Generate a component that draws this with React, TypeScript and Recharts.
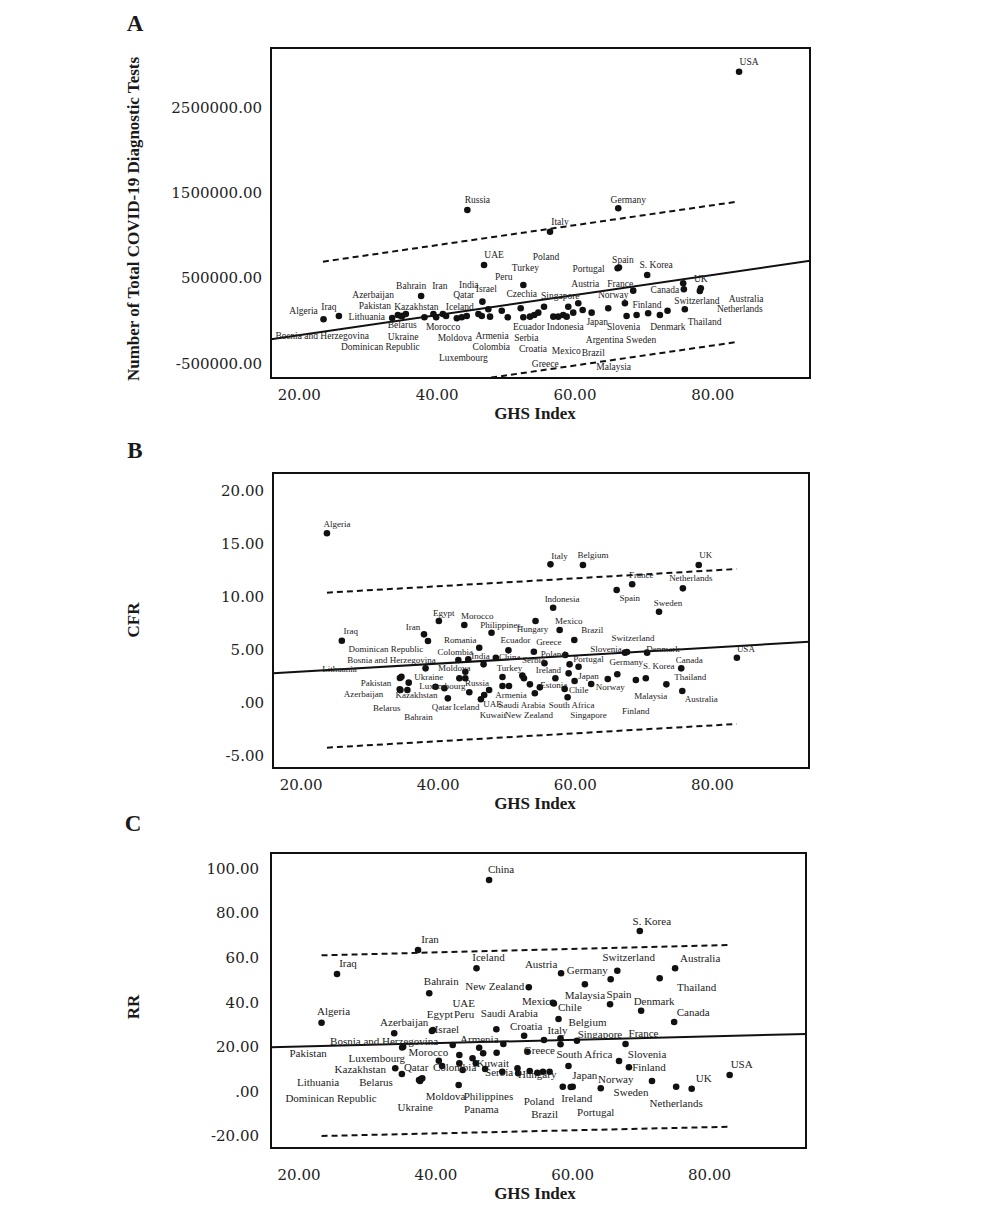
import React from 'react';
import { ScatterChart, Scatter, XAxis, YAxis, ReferenceLine, ReferenceArea } from 'recharts';

type Pt = { name: string; ghs: number; v: number };
type Seg = { x: number; y: number }[];

// ---------- shared x axis ----------
const ghsDomain: [number, number] = [15.9, 94.1];
const ghsTicks = [20, 40, 60, 80];

// ---------- Panel A: total COVID-19 diagnostic tests ----------
const testsA: Pt[] = [
  { name: 'Algeria', ghs: 23.52, v: 16000 },
  { name: 'Iraq', ghs: 25.75, v: 55000 },
  { name: 'Lithuania', ghs: 34.3, v: 67000 },
  { name: 'Pakistan', ghs: 35.46, v: 79000 },
  { name: 'Azerbaijan', ghs: 34.78, v: 55000 },
  { name: 'Bosnia and Herzegovina', ghs: 33.48, v: 32000 },
  { name: 'Belarus', ghs: 34.93, v: 55000 },
  { name: 'Bahrain', ghs: 37.68, v: 290000 },
  { name: 'Kazakhstan', ghs: 38.16, v: 40000 },
  { name: 'Dominican Republic', ghs: 39.46, v: 79000 },
  { name: 'Ukraine', ghs: 39.86, v: 40000 },
  { name: 'Iran', ghs: 40.83, v: 79000 },
  { name: 'Morocco', ghs: 41.3, v: 55000 },
  { name: 'Moldova', ghs: 42.86, v: 28000 },
  { name: 'Iceland', ghs: 43.58, v: 40000 },
  { name: 'Qatar', ghs: 44.3, v: 55000 },
  { name: 'Luxembourg', ghs: 45.99, v: 79000 },
  { name: 'Israel', ghs: 46.57, v: 223000 },
  { name: 'India', ghs: 46.48, v: 55000 },
  { name: 'Colombia', ghs: 47.43, v: 134000 },
  { name: 'Armenia', ghs: 47.68, v: 47000 },
  { name: 'UAE', ghs: 46.81, v: 653000 },
  { name: 'Russia', ghs: 44.39, v: 1298000 },
  { name: 'Peru', ghs: 49.38, v: 117000 },
  { name: 'Ecuador', ghs: 50.25, v: 40000 },
  { name: 'Czechia', ghs: 52.13, v: 145000 },
  { name: 'Turkey', ghs: 52.51, v: 419000 },
  { name: 'Serbia', ghs: 52.51, v: 40000 },
  { name: 'Croatia', ghs: 53.48, v: 47000 },
  { name: 'Estonia', ghs: 54.1, v: 67000 },
  { name: 'Greece', ghs: 54.68, v: 94000 },
  { name: 'Poland', ghs: 55.51, v: 164000 },
  { name: 'Italy', ghs: 56.38, v: 1043000 },
  { name: 'Singapore', ghs: 56.86, v: 47000 },
  { name: 'Indonesia', ghs: 57.58, v: 47000 },
  { name: 'Mexico', ghs: 58.3, v: 67000 },
  { name: 'Argentina', ghs: 58.8, v: 47000 },
  { name: 'Austria', ghs: 59.03, v: 164000 },
  { name: 'Japan', ghs: 59.75, v: 94000 },
  { name: 'Brazil', ghs: 60.48, v: 204000 },
  { name: 'Malaysia', ghs: 61.12, v: 125000 },
  { name: 'Chile', ghs: 62.42, v: 94000 },
  { name: 'France', ghs: 64.83, v: 145000 },
  { name: 'Portugal', ghs: 66.19, v: 614000 },
  { name: 'Spain', ghs: 66.38, v: 624000 },
  { name: 'Finland', ghs: 67.25, v: 204000 },
  { name: 'Latvia', ghs: 67.49, v: 55000 },
  { name: 'Norway', ghs: 68.45, v: 352000 },
  { name: 'Slovenia', ghs: 68.94, v: 67000 },
  { name: 'S. Korea', ghs: 70.48, v: 536000 },
  { name: 'Sweden', ghs: 70.62, v: 87000 },
  { name: 'Denmark', ghs: 72.32, v: 67000 },
  { name: 'Thailand', ghs: 73.43, v: 117000 },
  { name: 'Australia', ghs: 75.7, v: 438000 },
  { name: 'Canada', ghs: 75.8, v: 368000 },
  { name: 'Switzerland', ghs: 75.94, v: 134000 },
  { name: 'UK', ghs: 78.26, v: 380000 },
  { name: 'Netherlands', ghs: 78.12, v: 348000 },
  { name: 'Germany', ghs: 66.28, v: 1318000 },
  { name: 'USA', ghs: 83.81, v: 2919000 },
];
const yDomainA: [number, number] = [-672000, 3197000];
const yTicksA = [-500000, 500000, 1500000, 2500000];
const fitA: Seg = [{ x: 15.9, y: -218000 }, { x: 94.1, y: 703000 }];
const upperA: Seg = [{ x: 23.43, y: 692000 }, { x: 83.52, y: 1395000 }];
const lowerA: Seg = [{ x: 23.43, y: -953000 }, { x: 83.52, y: -250000 }];

// ---------- Panel B: CFR ----------
const cfrB: Pt[] = [
  { name: 'Algeria', ghs: 23.77, v: 16.01 },
  { name: 'Iraq', ghs: 25.94, v: 5.88 },
  { name: 'Dominican Republic', ghs: 38.51, v: 5.85 },
  { name: 'Iran', ghs: 37.93, v: 6.48 },
  { name: 'Bosnia and Herzegovina', ghs: 38.16, v: 3.27 },
  { name: 'Lithuania', ghs: 34.64, v: 2.48 },
  { name: 'Pakistan', ghs: 34.42, v: 2.36 },
  { name: 'Ukraine', ghs: 35.7, v: 1.92 },
  { name: 'Azerbaijan', ghs: 34.49, v: 1.23 },
  { name: 'Belarus', ghs: 34.39, v: 1.29 },
  { name: 'Bahrain', ghs: 35.51, v: 1.23 },
  { name: 'Kazakhstan', ghs: 39.61, v: 1.54 },
  { name: 'Moldova', ghs: 43.96, v: 2.95 },
  { name: 'Luxembourg', ghs: 40.91, v: 1.39 },
  { name: 'Qatar', ghs: 41.41, v: 0.44 },
  { name: 'Russia', ghs: 47.43, v: 1.23 },
  { name: 'Iceland', ghs: 44.54, v: 1.01 },
  { name: 'Kuwait', ghs: 46.23, v: 0.35 },
  { name: 'Costa Rica', ghs: 46.71, v: 0.75 },
  { name: 'Colombia', ghs: 42.94, v: 4.06 },
  { name: 'India', ghs: 46.62, v: 3.65 },
  { name: 'Panama', ghs: 44.39, v: 4.12 },
  { name: 'Peru', ghs: 43.09, v: 2.33 },
  { name: 'Bulgaria', ghs: 43.96, v: 2.33 },
  { name: 'Romania', ghs: 45.99, v: 5.22 },
  { name: 'Egypt', ghs: 40.1, v: 7.74 },
  { name: 'Morocco', ghs: 43.81, v: 7.36 },
  { name: 'Philippines', ghs: 47.78, v: 6.63 },
  { name: 'Hungary', ghs: 54.2, v: 7.74 },
  { name: 'Ecuador', ghs: 50.25, v: 4.97 },
  { name: 'Greece', ghs: 53.96, v: 4.84 },
  { name: 'China', ghs: 48.41, v: 4.27 },
  { name: 'Serbia', ghs: 55.51, v: 3.75 },
  { name: 'Poland', ghs: 58.55, v: 4.53 },
  { name: 'Turkey', ghs: 49.38, v: 2.45 },
  { name: 'Slovakia', ghs: 52.28, v: 2.58 },
  { name: 'Cuba', ghs: 52.51, v: 2.33 },
  { name: 'Armenia', ghs: 50.33, v: 1.6 },
  { name: 'UAE', ghs: 49.38, v: 1.6 },
  { name: 'Saudi Arabia', ghs: 53.38, v: 1.76 },
  { name: 'Estonia', ghs: 54.83, v: 1.48 },
  { name: 'New Zealand', ghs: 54.1, v: 0.92 },
  { name: 'Italy', ghs: 56.38, v: 13.08 },
  { name: 'Belgium', ghs: 61.12, v: 13.02 },
  { name: 'UK', ghs: 78.01, v: 13.02 },
  { name: 'France', ghs: 68.3, v: 11.2 },
  { name: 'Netherlands', ghs: 75.7, v: 10.82 },
  { name: 'Spain', ghs: 66.04, v: 10.66 },
  { name: 'Sweden', ghs: 72.22, v: 8.61 },
  { name: 'Indonesia', ghs: 56.77, v: 8.99 },
  { name: 'Mexico', ghs: 57.72, v: 6.89 },
  { name: 'Brazil', ghs: 59.86, v: 5.94 },
  { name: 'Slovenia', ghs: 67.25, v: 4.75 },
  { name: 'Switzerland', ghs: 67.54, v: 4.81 },
  { name: 'Denmark', ghs: 70.48, v: 4.75 },
  { name: 'USA', ghs: 83.58, v: 4.27 },
  { name: 'Canada', ghs: 75.46, v: 3.27 },
  { name: 'Portugal', ghs: 60.48, v: 3.42 },
  { name: 'Latvia', ghs: 59.17, v: 3.65 },
  { name: 'Germany', ghs: 66.13, v: 2.71 },
  { name: 'S. Korea', ghs: 70.29, v: 2.33 },
  { name: 'Malaysia', ghs: 68.84, v: 2.17 },
  { name: 'Thailand', ghs: 73.29, v: 1.76 },
  { name: 'Japan', ghs: 59.03, v: 2.8 },
  { name: 'Chile', ghs: 58.45, v: 1.32 },
  { name: 'Singapore', ghs: 59.9, v: 2.08 },
  { name: 'Ireland', ghs: 57.1, v: 2.33 },
  { name: 'Norway', ghs: 62.32, v: 1.79 },
  { name: 'Finland', ghs: 64.74, v: 2.26 },
  { name: 'Australia', ghs: 75.61, v: 1.13 },
  { name: 'South Africa', ghs: 58.88, v: 0.54 },
];
const yDomainB: [number, number] = [-6.13, 21.7];
const yTicksB = [-5, 0, 5, 10, 15, 20];
const fitB: Seg = [{ x: 15.9, y: 2.8 }, { x: 94.1, y: 5.78 }];
const upperB: Seg = [{ x: 23.77, y: 10.41 }, { x: 83.52, y: 12.64 }];
const lowerB: Seg = [{ x: 23.77, y: -4.21 }, { x: 83.52, y: -1.98 }];

// ---------- Panel C: RR ----------
const rrC: Pt[] = [
  { name: 'China', ghs: 47.78, v: 94.84 },
  { name: 'Iran', ghs: 37.39, v: 63.45 },
  { name: 'Iraq', ghs: 25.55, v: 52.69 },
  { name: 'Iceland', ghs: 45.94, v: 55.25 },
  { name: 'Austria', ghs: 58.3, v: 53.0 },
  { name: 'Bahrain', ghs: 39.03, v: 44.04 },
  { name: 'New Zealand', ghs: 53.58, v: 46.73 },
  { name: 'Algeria', ghs: 23.29, v: 30.85 },
  { name: 'Israel', ghs: 39.57, v: 27.58 },
  { name: 'Egypt', ghs: 39.42, v: 27.13 },
  { name: 'UAE', ghs: 42.46, v: 20.85 },
  { name: 'Peru', ghs: 46.33, v: 19.64 },
  { name: 'Saudi Arabia', ghs: 48.84, v: 27.89 },
  { name: 'Armenia', ghs: 49.86, v: 21.3 },
  { name: 'Mexico', ghs: 57.1, v: 39.82 },
  { name: 'Chile', ghs: 57.25, v: 39.46 },
  { name: 'Azerbaijan', ghs: 33.91, v: 26.1 },
  { name: 'Croatia', ghs: 52.9, v: 25.02 },
  { name: 'Bosnia and Herzegovina', ghs: 35.22, v: 20.09 },
  { name: 'Pakistan', ghs: 35.07, v: 19.73 },
  { name: 'Kazakhstan', ghs: 34.06, v: 10.4 },
  { name: 'Georgia', ghs: 35.03, v: 7.85 },
  { name: 'Morocco', ghs: 43.43, v: 16.37 },
  { name: 'Luxembourg', ghs: 40.43, v: 13.81 },
  { name: 'Qatar', ghs: 40.91, v: 11.43 },
  { name: 'Belarus', ghs: 37.83, v: 5.61 },
  { name: 'Lithuania', ghs: 37.68, v: 4.71 },
  { name: 'Dominican Republic', ghs: 37.54, v: 5.16 },
  { name: 'Ukraine', ghs: 38.01, v: 5.92 },
  { name: 'Colombia', ghs: 43.91, v: 9.64 },
  { name: 'Moldova', ghs: 43.33, v: 2.91 },
  { name: 'Kuwait', ghs: 45.84, v: 12.65 },
  { name: 'Romania', ghs: 45.36, v: 14.89 },
  { name: 'India', ghs: 43.43, v: 12.65 },
  { name: 'Turkey', ghs: 46.91, v: 17.13 },
  { name: 'Ecuador', ghs: 48.88, v: 17.4 },
  { name: 'Serbia', ghs: 47.2, v: 10.09 },
  { name: 'Philippines', ghs: 51.93, v: 10.4 },
  { name: 'Panama', ghs: 49.71, v: 8.88 },
  { name: 'Hungary', ghs: 52.03, v: 8.16 },
  { name: 'Greece', ghs: 53.38, v: 17.85 },
  { name: 'Italy', ghs: 58.22, v: 23.86 },
  { name: 'Estonia', ghs: 55.8, v: 23.09 },
  { name: 'Poland', ghs: 55.65, v: 8.88 },
  { name: 'Brazil', ghs: 56.62, v: 8.88 },
  { name: 'Slovakia', ghs: 53.72, v: 9.19 },
  { name: 'Argentina', ghs: 54.83, v: 8.43 },
  { name: 'Japan', ghs: 58.55, v: 2.15 },
  { name: 'Portugal', ghs: 60.0, v: 2.15 },
  { name: 'Ireland', ghs: 59.71, v: 2.02 },
  { name: 'Norway', ghs: 64.1, v: 1.43 },
  { name: 'South Africa', ghs: 59.38, v: 11.43 },
  { name: 'Sweden', ghs: 71.59, v: 4.71 },
  { name: 'Slovenia', ghs: 66.77, v: 13.68 },
  { name: 'Finland', ghs: 68.22, v: 10.85 },
  { name: 'France', ghs: 67.72, v: 21.3 },
  { name: 'Singapore', ghs: 60.62, v: 22.78 },
  { name: 'Belgium', ghs: 57.93, v: 32.51 },
  { name: 'Latvia', ghs: 58.22, v: 21.17 },
  { name: 'Malaysia', ghs: 61.78, v: 48.07 },
  { name: 'Germany', ghs: 66.52, v: 54.17 },
  { name: 'Switzerland', ghs: 65.55, v: 50.31 },
  { name: 'Spain', ghs: 65.46, v: 39.1 },
  { name: 'Denmark', ghs: 70.0, v: 36.23 },
  { name: 'Canada', ghs: 74.83, v: 31.17 },
  { name: 'Thailand', ghs: 72.71, v: 50.76 },
  { name: 'Australia', ghs: 74.97, v: 55.25 },
  { name: 'S. Korea', ghs: 69.81, v: 71.97 },
  { name: 'USA', ghs: 82.94, v: 7.4 },
  { name: 'UK', ghs: 77.39, v: 1.26 },
  { name: 'Netherlands', ghs: 75.12, v: 2.15 },
];
const yDomainC: [number, number] = [-25.34, 106.95];
const yTicksC = [-20, 0, 20, 40, 60, 80, 100];
const yTickLabelsC = ['-20.00', '.00', '20.00', '40.0', '60.0', '80.00', '100.00'];
const fitC: Seg = [{ x: 15.9, y: 19.82 }, { x: 94.1, y: 25.78 }];
const upperC: Seg = [{ x: 23.29, y: 61.08 }, { x: 83.19, y: 65.7 }];
const lowerC: Seg = [{ x: 23.29, y: -19.96 }, { x: 83.19, y: -15.78 }];

// ---------- label placement (pixel offsets from the point, layout only) ----------
const offA: Record<string, [number, number]> = {
  Algeria: [-20, -9], Iraq: [-10, -9], Lithuania: [-31, 2], Pakistan: [-31, -8], Azerbaijan: [-28, -21],
  'Bosnia and Herzegovina': [-70, 18], Belarus: [0, 9], Bahrain: [-10, -10], Kazakhstan: [-8, -11],
  'Dominican Republic': [-53, 33], Ukraine: [-33, 19], Iran: [-3, -28], Morocco: [-3, 11], Moldova: [-2, 19],
  Iceland: [-2, -11], Qatar: [-3, -21], Luxembourg: [-15, 44], Israel: [4, -13], India: [-13, -31],
  Colombia: [3, 37], Armenia: [2, 19], UAE: [10, -10], Russia: [10, -10], Peru: [2, -34], Ecuador: [21, 9],
  Czechia: [1, -15], Turkey: [2, -17], Serbia: [3, 20], Croatia: [3, 32], Greece: [7, 51], Poland: [2, -50],
  Italy: [10, -10], Singapore: [7, -21], Indonesia: [7, 10], Mexico: [3, 36], Argentina: [38, 23],
  Austria: [17, -23], Japan: [24, 9], Brazil: [15, 49], Malaysia: [31, 57], France: [12, -25],
  Portugal: [-29, 0], Spain: [4, -8], Finland: [22, 1], Norway: [-20, 4], Slovenia: [-13, 12],
  'S. Korea': [9, -10], Sweden: [-7, 26], Denmark: [8, 12], Thailand: [37, 11], Australia: [63, 15],
  Canada: [-19, 0], Switzerland: [12, -9], UK: [0, -10], Netherlands: [40, 18], Germany: [10, -9], USA: [10, -10],
};
const offB: Record<string, [number, number]> = {
  Algeria: [10, -9], Iraq: [9, -10], 'Dominican Republic': [-42, 8], Iran: [-11, -7], 'Bosnia and Herzegovina': [-34, -9],
  Lithuania: [-62, -8], Pakistan: [-24, 5], Ukraine: [20, -6], Azerbaijan: [-37, 4], Belarus: [-13, 19], Bahrain: [11, 27],
  Kazakhstan: [-19, 8], Moldova: [-11, -4], Luxembourg: [-2, -2], Qatar: [-6, 8], Russia: [-12, -7], Iceland: [-3, 15],
  Kuwait: [12, 16], Colombia: [-3, -8], India: [-3, -8], Romania: [-19, -8], Egypt: [5, -8], Morocco: [13, -9],
  Philippines: [9, -8], Hungary: [-3, 8], Ecuador: [7, -10], Greece: [15, -10], China: [14, -1], Serbia: [-11, -3],
  Poland: [-12, -1], Turkey: [7, -9], Armenia: [2, 9], UAE: [-10, 18], 'Saudi Arabia': [-8, 20], Estonia: [14, -2],
  'New Zealand': [-6, 22], Italy: [9, -9], Belgium: [10, -10], UK: [7, -10], France: [9, -9], Netherlands: [8, -10],
  Spain: [13, 8], Sweden: [9, -9], Indonesia: [9, -9], Mexico: [9, -9], Brazil: [18, -10], Slovenia: [-19, -4],
  Switzerland: [6, -14], Denmark: [16, -4], USA: [9, -9], Canada: [8, -9], Portugal: [10, -8], Germany: [9, -12],
  'S. Korea': [13, -12], Malaysia: [15, 16], Thailand: [24, -8], Japan: [20, 3], Chile: [14, 1], Singapore: [14, 34],
  Ireland: [-7, -8], Norway: [19, 3], Finland: [28, 32], Australia: [19, 8], 'South Africa': [4, 8],
};
const offC: Record<string, [number, number]> = {
  China: [12, -11], Iran: [12, -11], Iraq: [11, -11], Iceland: [12, -11], Austria: [-20, -9], Bahrain: [12, -12],
  'New Zealand': [-34, -1], Algeria: [12, -12], Israel: [14, -1], Egypt: [8, -17], UAE: [11, -42], Peru: [-15, -34],
  'Saudi Arabia': [13, -16], Armenia: [-24, -5], Mexico: [-14, -2], Chile: [16, 4], Azerbaijan: [10, -11],
  Croatia: [2, -10], 'Bosnia and Herzegovina': [-19, -6], Pakistan: [-94, 6], Kazakhstan: [-35, 1], Morocco: [-31, -3],
  Luxembourg: [-62, -3], Qatar: [-26, 1], Belarus: [-45, 3], Lithuania: [-102, 1], 'Dominican Republic': [-88, 18],
  Ukraine: [-7, 29], Colombia: [-8, -3], Moldova: [-13, 11], Kuwait: [17, 0], Serbia: [14, 3], Philippines: [-29, 28],
  Panama: [-21, 37], Hungary: [19, 1], Greece: [12, -2], Italy: [-3, -8], Poland: [-4, 29], Brazil: [-5, 42],
  Japan: [22, -12], Portugal: [23, 25], Ireland: [6, 11], Norway: [15, -9], 'South Africa': [16, -12], Sweden: [-21, 11],
  Slovenia: [28, -7], Finland: [20, 0], France: [18, -11], Singapore: [23, -7], Belgium: [29, 3], Malaysia: [0, 11],
  Germany: [-30, -1], Switzerland: [18, -22], Spain: [9, -10], Denmark: [13, -10], Canada: [19, -10], Thailand: [37, 9],
  Australia: [25, -10], 'S. Korea': [12, -10], USA: [12, -11], UK: [12, -11], Netherlands: [0, 16],
};

const INK = '#111';
const TICK_FONT = "'DejaVu Serif', serif";
const LABEL_FONT = "'Liberation Serif', 'Times New Roman', serif";
const TITLE_FONT = "'Liberation Serif', 'Times New Roman', serif";

const makeShape = (offsets: Record<string, [number, number]>, fontSize: number) => (props: any) => {
  const { cx, cy, payload } = props;
  if (cx == null || cy == null) return <g />;
  const off = offsets[payload.name];
  return (
    <g>
      <circle cx={cx} cy={cy} r={3.3} fill={INK} />
      {off && (
        <text
          x={cx + off[0]}
          y={cy + off[1]}
          dy="0.35em"
          textAnchor="middle"
          fontSize={fontSize}
          fontFamily={LABEL_FONT}
          fill="#222"
        >
          {payload.name}
        </text>
      )}
    </g>
  );
};

const fmt2 = (v: number) => (v === 0 ? '.00' : v.toFixed(2));

type PanelProps = {
  top: number;
  height: number;
  margin: { top: number; right: number; bottom: number; left: number };
  xAxisHeight: number;
  xTickMargin: number;
  yTickMargin: number;
  data: Pt[];
  offsets: Record<string, [number, number]>;
  labelSize: number;
  yDomain: [number, number];
  yTicks: number[];
  yFmt: (v: number) => string;
  fit: Seg;
  upper: Seg;
  lower: Seg;
};

function Panel(p: PanelProps) {
  const shape = React.useMemo(() => makeShape(p.offsets, p.labelSize), [p.offsets, p.labelSize]);
  return (
    <div style={{ position: 'absolute', left: 0, top: p.top }}>
      <ScatterChart width={984} height={p.height} margin={p.margin}>
        <XAxis
          type="number"
          dataKey="ghs"
          domain={ghsDomain}
          allowDataOverflow
          ticks={ghsTicks}
          tickFormatter={fmt2}
          axisLine={false}
          tickLine={false}
          tickSize={0}
          tickMargin={p.xTickMargin}
          height={p.xAxisHeight}
          tick={{ fill: '#222', fontSize: 15, fontFamily: TICK_FONT }}
        />
        <YAxis
          type="number"
          dataKey="v"
          domain={p.yDomain}
          allowDataOverflow
          ticks={p.yTicks}
          tickFormatter={p.yFmt}
          axisLine={false}
          tickLine={false}
          tickSize={0}
          tickMargin={p.yTickMargin}
          width={100}
          interval={0}
          tick={{ fill: '#222', fontSize: 15, fontFamily: TICK_FONT }}
        />
        <ReferenceArea
          x1={ghsDomain[0]}
          x2={ghsDomain[1]}
          y1={p.yDomain[0]}
          y2={p.yDomain[1]}
          fill="none"
          fillOpacity={0}
          stroke={INK}
          strokeWidth={2}
          ifOverflow="visible"
        />
        <ReferenceLine segment={p.fit} stroke={INK} strokeWidth={2} ifOverflow="hidden" />
        <ReferenceLine segment={p.upper} stroke={INK} strokeWidth={2} strokeDasharray="6 4" ifOverflow="hidden" />
        <ReferenceLine segment={p.lower} stroke={INK} strokeWidth={2} strokeDasharray="6 4" ifOverflow="hidden" />
        <Scatter data={p.data} shape={shape} isAnimationActive={false} />
      </ScatterChart>
    </div>
  );
}

const abs = (left: number, top: number, extra: React.CSSProperties = {}): React.CSSProperties => ({
  position: 'absolute',
  left,
  top,
  transform: 'translate(-50%, -50%)',
  whiteSpace: 'nowrap',
  color: '#1a1a1a',
  ...extra,
});

const letterStyle: React.CSSProperties = { fontFamily: TITLE_FONT, fontWeight: 700, fontSize: 23, lineHeight: 1 };
const titleStyle: React.CSSProperties = { fontFamily: TITLE_FONT, fontWeight: 700, fontSize: 17, lineHeight: 1 };

export default function App() {
  return (
    <div style={{ position: 'relative', width: 984, height: 1200, background: '#fff' }}>
      <Panel
        top={0}
        height={420}
        margin={{ top: 40, right: 182, bottom: 0, left: 163 }}
        xAxisHeight={50}
        xTickMargin={11}
        yTickMargin={9}
        data={testsA}
        offsets={offA}
        labelSize={9.5}
        yDomain={yDomainA}
        yTicks={yTicksA}
        yFmt={fmt2}
        fit={fitA}
        upper={upperA}
        lower={lowerA}
      />
      <Panel
        top={422}
        height={388}
        margin={{ top: 43, right: 183, bottom: 0, left: 165 }}
        xAxisHeight={50}
        xTickMargin={11}
        yTickMargin={9}
        data={cfrB}
        offsets={offB}
        labelSize={9}
        yDomain={yDomainB}
        yTicks={yTicksB}
        yFmt={fmt2}
        fit={fitB}
        upper={upperB}
        lower={lowerB}
      />
      <Panel
        top={802}
        height={398}
        margin={{ top: 43, right: 186, bottom: 0, left: 163 }}
        xAxisHeight={60}
        xTickMargin={21}
        yTickMargin={12}
        data={rrC}
        offsets={offC}
        labelSize={11}
        yDomain={yDomainC}
        yTicks={yTicksC}
        yFmt={(v: number) => yTickLabelsC[yTicksC.indexOf(v)] ?? fmt2(v)}
        fit={fitC}
        upper={upperC}
        lower={lowerC}
      />

      <div style={abs(127, 15, letterStyle)}>A</div>
      <div style={abs(127, 442, letterStyle)}>B</div>
      <div style={abs(125, 815, letterStyle)}>C</div>

      <div style={abs(125, 211, { ...titleStyle, transform: 'translate(-50%, -50%) rotate(-90deg)' })}>
        Number of Total COVID-19 Diagnostic Tests
      </div>
      <div style={abs(125, 612, { ...titleStyle, transform: 'translate(-50%, -50%) rotate(-90deg)' })}>CFR</div>
      <div style={abs(125, 999, { ...titleStyle, transform: 'translate(-50%, -50%) rotate(-90deg)' })}>RR</div>

      <div style={abs(527, 405, titleStyle)}>GHS Index</div>
      <div style={abs(527, 795, titleStyle)}>GHS Index</div>
      <div style={abs(527, 1185, titleStyle)}>GHS Index</div>
    </div>
  );
}
